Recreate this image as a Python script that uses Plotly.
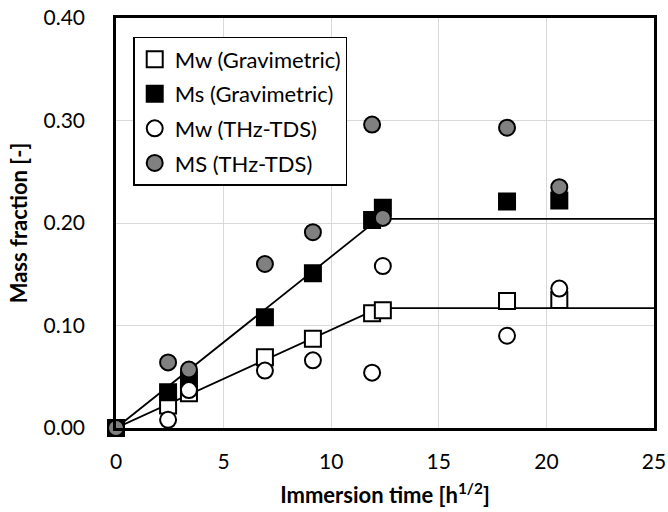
import plotly.graph_objects as go

time_h = [0, 2.42, 3.39, 6.92, 9.15, 11.9, 12.4, 18.17, 20.6]
mw_grav = [0, 0.022, 0.034, 0.069, 0.087, 0.112, 0.115, 0.124, 0.125]
ms_grav = [0, 0.035, 0.047, 0.108, 0.151, 0.203, 0.215, 0.221, 0.222]
mw_thz = [0, 0.008, 0.037, 0.056, 0.066, 0.054, 0.158, 0.090, 0.136]
ms_thz = [0, 0.064, 0.057, 0.160, 0.191, 0.296, 0.205, 0.293, 0.235]

fit_x = [0, 12.2, 25]
mw_fit = [0, 0.117, 0.117]
ms_fit = [0, 0.204, 0.204]

FONT = "Lato"

fig = go.Figure()
for yv in (mw_fit, ms_fit):
    fig.add_trace(go.Scatter(x=fit_x, y=yv, mode="lines",
                             line=dict(color="black", width=1.8),
                             showlegend=False, hoverinfo="skip"))

series = [
    ("Mw (Gravimetric)", mw_grav, "square", "white"),
    ("Ms (Gravimetric)", ms_grav, "square", "black"),
    ("Mw (THz-TDS)", mw_thz, "circle", "white"),
    ("MS (THz-TDS)", ms_thz, "circle", "#808080"),
]
for i, (name, yv, sym, fill) in enumerate(series):
    fig.add_trace(go.Scatter(
        x=time_h, y=yv, mode="markers", name=name, legendgroup=f"g{i}",
        marker=dict(symbol=sym, size=16, color=fill,
                    line=dict(color="black", width=2)),
        cliponaxis=False))

fig.update_layout(
    width=668, height=512,
    margin=dict(l=116, r=14, t=18, b=84, autoexpand=False),
    plot_bgcolor="white", paper_bgcolor="white",
    font=dict(family=FONT, size=21, color="black"),
    showlegend=True,
    legend=dict(x=0.032, y=0.954, xanchor="left", yanchor="top",
                bordercolor="black", borderwidth=1.5, bgcolor="white",
                font=dict(size=22), tracegroupgap=3, traceorder="grouped",
                itemwidth=30),
    xaxis=dict(range=[0, 25], tickvals=[0, 5, 10, 15, 20, 25],
               showgrid=True, gridcolor="#d9d9d9", gridwidth=1,
               showline=True, linecolor="black", linewidth=2.5, mirror=True,
               zeroline=False, ticks="", ticklabelstandoff=13,
               automargin=False,
               title=dict(text="<b>Immersion time [h<sup>1/2</sup>]</b>",
                          font=dict(size=22), standoff=16)),
    yaxis=dict(range=[0, 0.4], tickvals=[0, 0.1, 0.2, 0.3, 0.4],
               tickformat=".2f",
               showgrid=True, gridcolor="#d9d9d9", gridwidth=1,
               showline=True, linecolor="black", linewidth=2.5, mirror=True,
               zeroline=False, ticks="", ticklabelstandoff=24,
               automargin=False,
               title=dict(text="<b>Mass fraction [-]</b>",
                          font=dict(size=22), standoff=10)),
)

fig.write_html("out.html", config={"displayModeBar": False},
               post_script="document.body.style.margin='0';document.body.style.padding='0';")
